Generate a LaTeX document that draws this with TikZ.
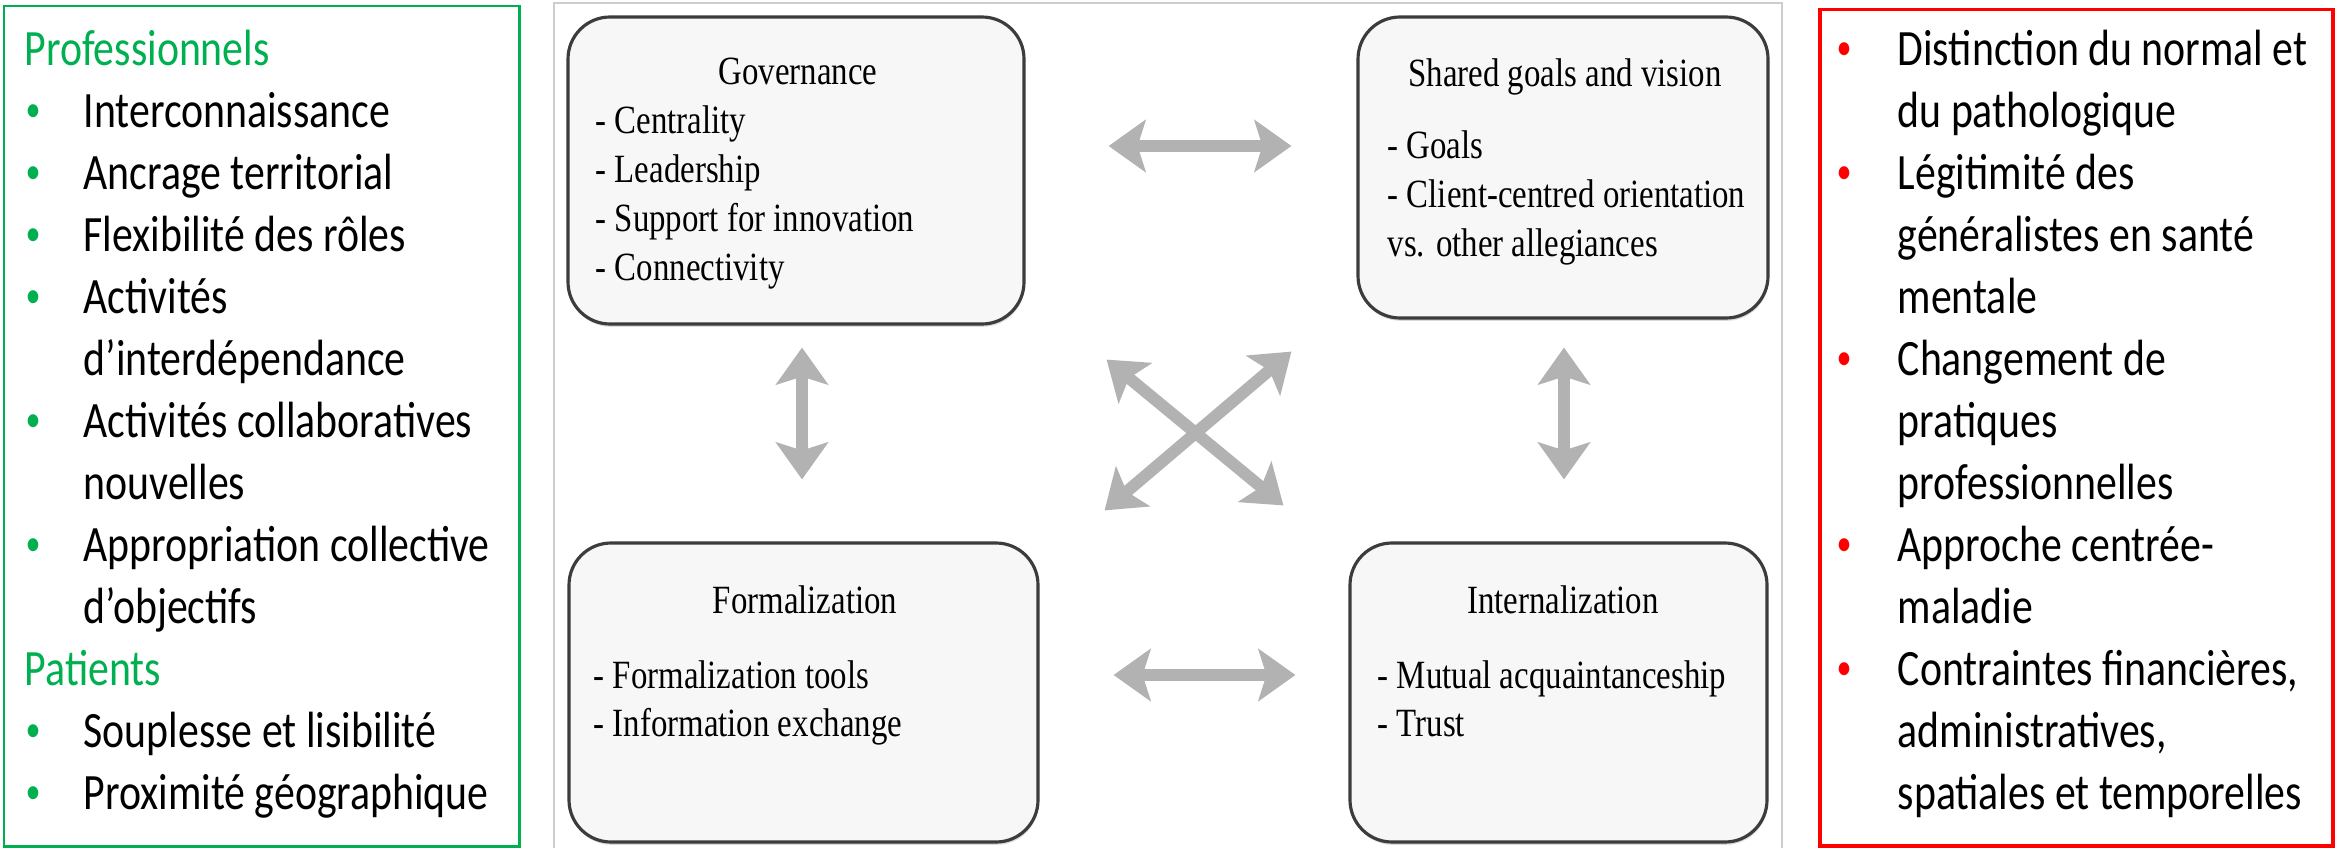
\documentclass[tikz,border=0pt]{standalone}
\usepackage{fontspec}
\newfontfamily\listfont{Carlito}[FakeStretch=0.82]
\newfontfamily\cardfont{Liberation Serif}[FakeStretch=0.82]
\definecolor{proGreen}{RGB}{0,176,80}
\definecolor{obsRed}{RGB}{255,0,0}
\definecolor{cardLine}{RGB}{60,60,60}
\definecolor{cardFill}{RGB}{247,247,247}
\definecolor{linkGray}{RGB}{178,178,178}
\definecolor{panelGray}{RGB}{205,205,205}
\usetikzlibrary{positioning,arrows.meta,shadows}
\newcommand{\gdot}{\hspace{0.03cm}\raisebox{0.13em}{\scalebox{0.72}{\textcolor{proGreen}{\textbullet}}}}
\newcommand{\rdot}{\raisebox{0.13em}{\scalebox{0.72}{\textcolor{obsRed}{\textbullet}}}}
\tikzset{
  card/.style={draw=cardLine, line width=0.9pt, fill=cardFill, rounded corners=0.42cm,
    drop shadow={opacity=0.3, shadow xshift=0.2pt, shadow yshift=-0.8pt}},
  cardtitle/.style={font=\cardfont\fontsize{11.4}{13.9}\selectfont, text=black, anchor=base, inner sep=0pt},
  carditems/.style={font=\cardfont\fontsize{11.4}{13.9}\selectfont, text=black, anchor=base west, inner sep=0pt},
  listtext/.style={font=\listfont\fontsize{14.5}{17.64}\selectfont, anchor=base west, inner sep=0pt},
  link/.style={draw=linkGray, line width=3.4pt,
    {Stealth[length=0.37cm,width=0.52cm,inset=0.08cm]}-{Stealth[length=0.37cm,width=0.52cm,inset=0.08cm]}}
}
\begin{document}
\begin{tikzpicture}
    \useasboundingbox (0,0) rectangle (23.41,8.48);

    % Left panel: facilitating factors
    \draw[proGreen, line width=0.85pt] (0.04,0.02) rectangle (5.19,8.42);
    \node[listtext] (pros) at (0.22,7.82) {\begin{tabular}[t]{@{}p{0.61cm}@{}l@{}}
      \multicolumn{2}{@{\hspace{0.02cm}}l@{}}{\textcolor{proGreen}{Professionnels}}\\
      \gdot & Interconnaissance\\
      \gdot & Ancrage territorial\\
      \gdot & Flexibilité des rôles\\
      \gdot & Activités\\
            & d’interdépendance\\
      \gdot & Activités collaboratives\\
            & nouvelles\\
      \gdot & Appropriation collective\\
            & d’objectifs\\
      \multicolumn{2}{@{\hspace{0.02cm}}l@{}}{\textcolor{proGreen}{Patients}}\\
      \gdot & Souplesse et lisibilité\\
      \gdot & Proximité géographique
    \end{tabular}};

    % Middle panel: collaboration model
    \draw[panelGray, line width=0.6pt] (5.54,0) -- (5.54,8.45) -- (17.82,8.45) -- (17.82,0);

    \node[card, minimum width=4.56cm, minimum height=3.07cm] (gov) at (7.96,6.775) {};
    \node[cardtitle] (govT) at (7.98,7.63) {Governance};
    \node[carditems] (govL) at (5.95,7.14) {\begin{tabular}[t]{@{}l@{}}
      - Centrality\\ - Leadership\\ - Support for innovation\\ - Connectivity
    \end{tabular}};

    \node[card, minimum width=4.10cm, minimum height=3.01cm] (goal) at (15.63,6.805) {};
    \node[cardtitle] (goalT) at (15.65,7.61) {Shared goals and vision};
    \node[carditems] (goalL) at (13.87,6.89) {\begin{tabular}[t]{@{}l@{}}
      - Goals\\ - Client-centred orientation\\ vs. other allegiances
    \end{tabular}};

    \node[card, minimum width=4.69cm, minimum height=2.99cm] (form) at (8.035,1.555) {};
    \node[cardtitle] (formT) at (8.05,2.35) {Formalization};
    \node[carditems] (formL) at (5.93,1.60) {\begin{tabular}[t]{@{}l@{}}
      - Formalization tools\\ - Information exchange
    \end{tabular}};

    \node[card, minimum width=4.17cm, minimum height=2.99cm] (intl) at (15.585,1.555) {};
    \node[cardtitle] (intlT) at (15.63,2.35) {Internalization};
    \node[carditems] (intlL) at (13.77,1.60) {\begin{tabular}[t]{@{}l@{}}
      - Mutual acquaintanceship\\ - Trust
    \end{tabular}};

    % Links between dimensions
    \draw[link] ([xshift=0.83cm,yshift=0.245cm]gov.east) -- ([xshift=-0.65cm,yshift=0.215cm]goal.west);
    \draw[link] ([xshift=0.74cm,yshift=0.175cm]form.east) -- ([xshift=-0.53cm,yshift=0.175cm]intl.west);
    \draw[link] ([xshift=0.06cm,yshift=-0.22cm]gov.south) -- ([xshift=-0.015cm,yshift=0.62cm]form.north);
    \draw[link] ([xshift=0.01cm,yshift=-0.28cm]goal.south) -- ([xshift=0.055cm,yshift=0.62cm]intl.north);
    \draw[link] ([xshift=0.81cm,yshift=-0.34cm]gov.south east) -- ([xshift=-0.65cm,yshift=0.36cm]intl.north west);
    \draw[link] ([xshift=-0.65cm,yshift=-0.32cm]goal.south west) -- ([xshift=0.65cm,yshift=0.31cm]form.north east);

    % Right panel: hindering factors
    \draw[obsRed, line width=1.1pt] (18.20,0.02) rectangle (23.33,8.385);
    \node[listtext] (cons) at (18.36,7.82) {\begin{tabular}[t]{@{}p{0.61cm}@{}l@{}}
      \rdot & Distinction du normal et\\
            & du pathologique\\
      \rdot & Légitimité des\\
            & généralistes en santé\\
            & mentale\\
      \rdot & Changement de\\
            & pratiques\\
            & professionnelles\\
      \rdot & Approche centrée-\\
            & maladie\\
      \rdot & Contraintes financières,\\
            & administratives,\\
            & spatiales et temporelles
    \end{tabular}};
\end{tikzpicture}
\end{document}
